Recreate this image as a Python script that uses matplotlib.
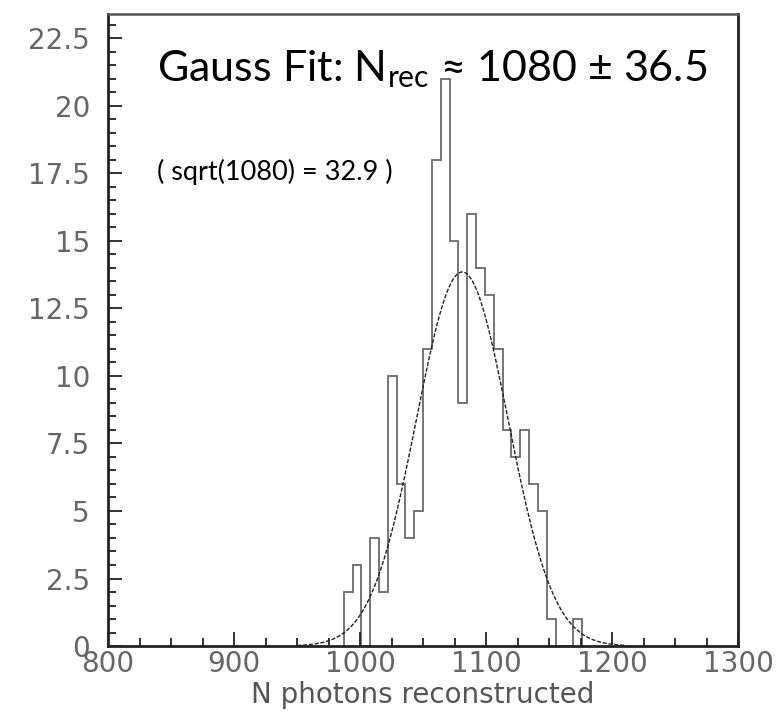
import numpy as np
import matplotlib
matplotlib.use("Agg")
import matplotlib.pyplot as plt
from matplotlib.ticker import MultipleLocator, FixedLocator

# histogram: 7-wide bins starting at 987
hist_start = 987
bin_width = 7
counts = [2, 3, 0, 4, 2, 10, 6, 4, 5, 11, 18, 21, 15, 9, 16, 14, 13,
          11, 8, 7, 8, 6, 5, 1, 0, 0, 1]

# gauss fit parameters
fit_amp = 13.85
fit_mean = 1081.0
fit_sigma = 36.3
fit_range = (950, 1210)

x_ticks = [800, 900, 1000, 1100, 1200, 1300]
y_ticks = [0, 2.5, 5, 7.5, 10, 12.5, 15, 17.5, 20, 22.5]
y_labels = ["0", "2.5", "5", "7.5", "10", "12.5", "15", "17.5", "20", "22.5"]

plt.rcParams["mathtext.fontset"] = "custom"
plt.rcParams["mathtext.rm"] = "Lato"
plt.rcParams["mathtext.it"] = "Lato:italic"

fig = plt.figure(figsize=(7.81, 7.19), dpi=100)
ax = fig.add_axes([0.1383, 0.1015, 0.8070, 0.8790])

edges = hist_start + bin_width * np.arange(len(counts) + 1)
ax.stairs(counts, edges, baseline=0, color="#6a6a6a", lw=1.3)

xf = np.linspace(fit_range[0], fit_range[1], 400)
yf = fit_amp * np.exp(-0.5 * ((xf - fit_mean) / fit_sigma) ** 2)
ax.plot(xf, yf, color="#222222", lw=1.0, linestyle=(0, (3, 1.2)))

ax.set_xlim(800, 1300)
ax.set_ylim(0, 23.4)

ax.xaxis.set_major_locator(FixedLocator(x_ticks))
ax.xaxis.set_minor_locator(MultipleLocator(25))
ax.yaxis.set_major_locator(FixedLocator(y_ticks))
ax.yaxis.set_minor_locator(MultipleLocator(0.5))
ax.set_yticklabels(y_labels)

ax.tick_params(axis="both", which="both", direction="in", colors="#222222",
               labelcolor="#666666", labelsize=20, width=1.3)
ax.tick_params(axis="both", which="major", length=10)
ax.tick_params(axis="both", which="minor", length=6)
ax.tick_params(axis="y", pad=13)
ax.tick_params(axis="x", pad=3)

for side in ["left", "bottom", "right"]:
    ax.spines[side].set_linewidth(2.0)
    ax.spines[side].set_color("#222222")
ax.spines["top"].set_linewidth(1.8)
ax.spines["top"].set_color("#555555")

ax.set_xlabel("N photons reconstructed", fontsize=20, color="#555555",
              labelpad=2)

ax.text(0.078, 0.893, "Gauss Fit: N$_{\\rm rec}$ \u2248 1080 \u00b1 36.5",
        transform=ax.transAxes, fontsize=31, family=["Lato", "DejaVu Sans"],
        color="black", ha="left", va="baseline")
ax.text(0.078, 0.737, "( sqrt(1080) = 32.9 )", transform=ax.transAxes,
        fontsize=19.5, family=["Lato", "DejaVu Sans"], color="black",
        ha="left", va="baseline")

fig.savefig("out.png", dpi=100)
